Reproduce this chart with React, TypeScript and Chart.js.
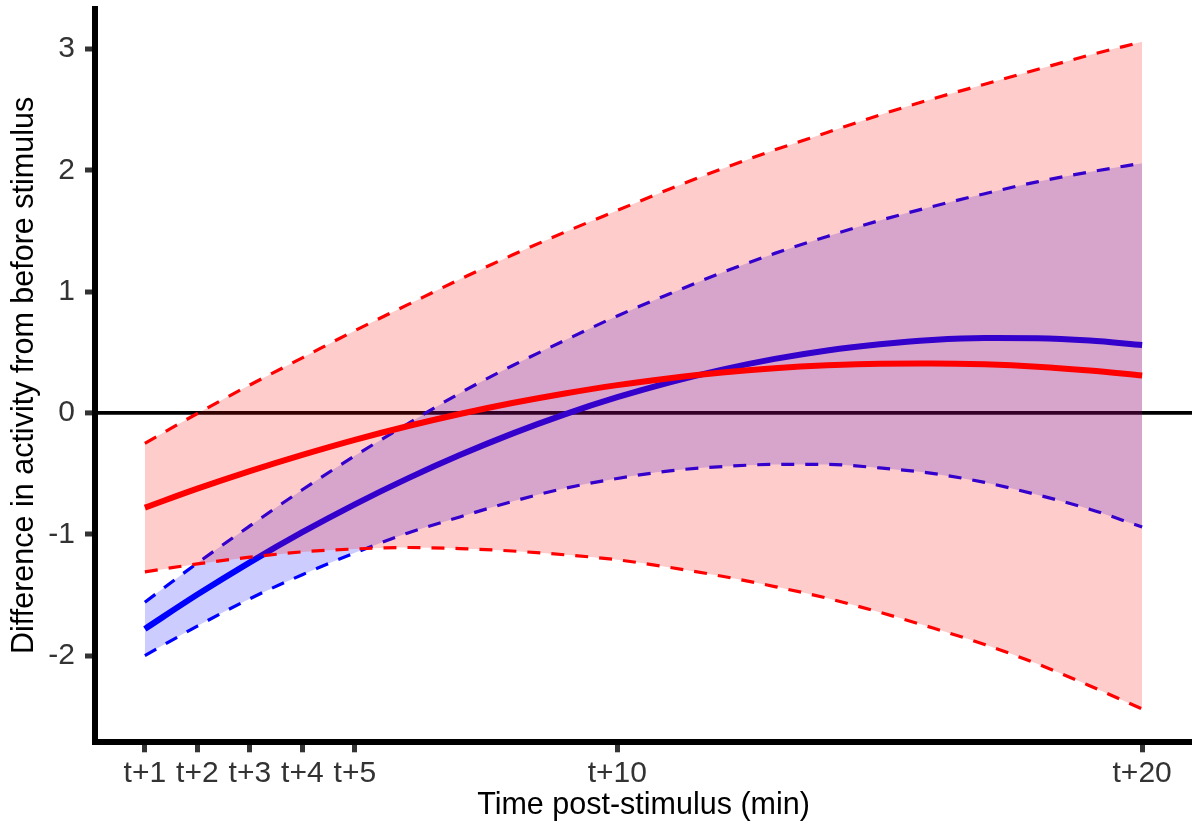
import { useEffect, useRef } from "react";
import { Chart, registerables } from "chart.js";

Chart.register(...registerables);

const timePoints = [1, 2, 3, 4, 5, 6, 7, 8, 9, 10, 11, 12, 13, 14, 15, 16, 17, 18, 19, 20];
const xTickValues = [1, 2, 3, 4, 5, 10, 20];
const yTickValues = [-2, -1, 0, 1, 2, 3];

const redFit = [-0.78, -0.624, -0.479, -0.345, -0.221, -0.109, -0.008, 0.082, 0.161, 0.23, 0.287, 0.334, 0.369, 0.393, 0.407, 0.409, 0.401, 0.382, 0.351, 0.31];
const redUpper = [-0.25, -0.004, 0.231, 0.455, 0.679, 0.891, 1.102, 1.302, 1.491, 1.67, 1.847, 2.014, 2.169, 2.313, 2.457, 2.589, 2.711, 2.832, 2.951, 3.06];
const redLower = [-1.31, -1.244, -1.189, -1.145, -1.121, -1.109, -1.118, -1.138, -1.169, -1.21, -1.273, -1.346, -1.431, -1.527, -1.643, -1.771, -1.909, -2.068, -2.249, -2.44];

const blueFit = [-1.78, -1.497, -1.231, -0.983, -0.753, -0.541, -0.347, -0.17, -0.011, 0.13, 0.253, 0.358, 0.446, 0.516, 0.567, 0.602, 0.618, 0.616, 0.597, 0.56];
const blueUpper = [-1.56, -1.237, -0.931, -0.633, -0.353, -0.091, 0.163, 0.39, 0.599, 0.8, 0.983, 1.158, 1.316, 1.456, 1.587, 1.702, 1.808, 1.906, 1.987, 2.06];
const blueLower = [-2.0, -1.757, -1.531, -1.333, -1.153, -0.991, -0.857, -0.73, -0.621, -0.54, -0.477, -0.442, -0.424, -0.424, -0.453, -0.498, -0.572, -0.674, -0.793, -0.94];

const FONT = '"Liberation Sans", Arial, Helvetica, sans-serif';

export default function App() {
  const ref = useRef<HTMLCanvasElement>(null);

  useEffect(() => {
    document.body.style.margin = "0";
    const pts = (arr: number[]) => timePoints.map((t, i) => ({ x: t, y: arr[i] }));
    const dashed = { borderWidth: 3.2, borderDash: [13, 11], pointRadius: 0 };
    const solid = { borderWidth: 6, pointRadius: 0 };

    const chart = new Chart(ref.current as HTMLCanvasElement, {
      type: "line",
      data: {
        datasets: [
          { label: "blueUpper", data: pts(blueUpper), borderColor: "#0000ff", ...dashed, fill: 1, backgroundColor: "rgba(0,0,255,0.2)", order: 6 },
          { label: "blueLower", data: pts(blueLower), borderColor: "#0000ff", ...dashed, fill: false, order: 5 },
          { label: "blueFit", data: pts(blueFit), borderColor: "#0000ff", ...solid, fill: false, order: 4 },
          { label: "redUpper", data: pts(redUpper), borderColor: "#ff0000", ...dashed, fill: 4, backgroundColor: "rgba(255,0,0,0.2)", order: 3 },
          { label: "redLower", data: pts(redLower), borderColor: "#ff0000", ...dashed, fill: false, order: 2 },
          { label: "redFit", data: pts(redFit), borderColor: "#ff0000", ...solid, fill: false, order: 1 },
        ] as any,
      },
      options: {
        animation: false,
        responsive: false,
        devicePixelRatio: 1,
        layout: { padding: { top: 8.5, left: 0, right: 0, bottom: 0 } },
        plugins: { legend: { display: false }, tooltip: { enabled: false } },
        elements: { point: { radius: 0 }, line: { cubicInterpolationMode: "monotone" } },
        scales: {
          x: {
            type: "linear",
            min: 0.05,
            max: 20.95,
            afterBuildTicks: (s: any) => {
              s.ticks = xTickValues.map((v) => ({ value: v }));
            },
            afterFit: (s: any) => {
              s.height = 84.7;
              s.paddingLeft = 0;
              s.paddingRight = 0;
            },
            ticks: {
              callback: (v: any) => "t+" + v,
              font: { family: FONT, size: 30 },
              color: "#333333",
              padding: 3,
              maxRotation: 0,
              autoSkip: false,
            },
            grid: { drawOnChartArea: false, tickColor: "#333333", tickWidth: 5, tickLength: 10 },
            border: { color: "#000000", width: 6 },
            title: {
              display: true,
              text: "Time post-stimulus (min)",
              font: { family: FONT, size: 30.5 },
              color: "#000000",
              padding: { top: 0, bottom: 3 },
            },
          },
          y: {
            type: "linear",
            min: -2.715,
            max: 3.335,
            afterBuildTicks: (s: any) => {
              s.ticks = yTickValues.map((v) => ({ value: v }));
            },
            afterFit: (s: any) => {
              s.width = 95;
              s.paddingTop = 0;
              s.paddingBottom = 0;
            },
            ticks: {
              callback: (v: any) => String(v),
              font: { family: FONT, size: 30 },
              color: "#333333",
              padding: 10,
            },
            grid: {
              color: (c: any) => (c.tick && c.tick.value === 0 ? "#000000" : "rgba(0,0,0,0)"),
              lineWidth: (c: any) => (c.tick && c.tick.value === 0 ? 3.8 : 0),
              tickColor: "#333333",
              tickWidth: 5,
              tickLength: 10,
            },
            border: { color: "#000000", width: 6 },
            title: {
              display: true,
              text: "Difference in activity from before stimulus",
              font: { family: FONT, size: 30.5 },
              color: "#000000",
              padding: { top: 6, bottom: 0 },
            },
          },
        },
      } as any,
    });
    return () => chart.destroy();
  }, []);

  return (
    <canvas
      ref={ref}
      width={1192}
      height={827}
      style={{ position: "fixed", left: 0, top: 0, width: 1192, height: 827, display: "block" }}
    />
  );
}
